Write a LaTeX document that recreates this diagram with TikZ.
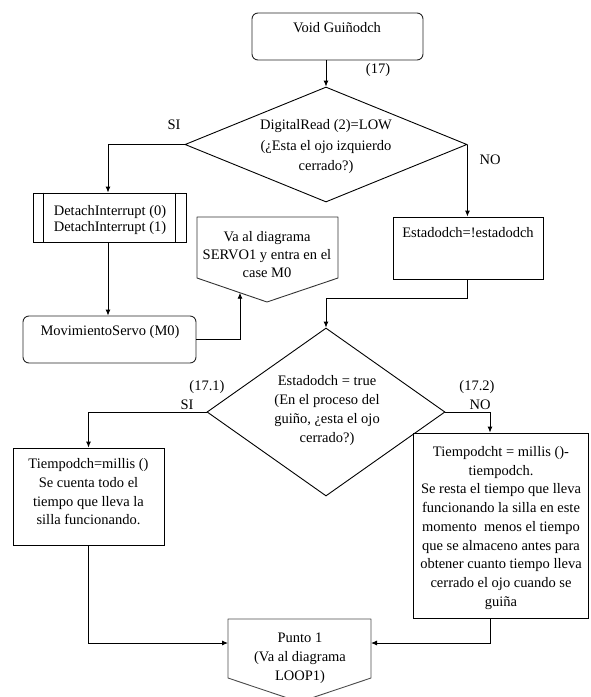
\documentclass[tikz,border=0pt]{standalone}
\usepackage{fontspec}
\setmainfont{Liberation Serif}
\usetikzlibrary{shapes.geometric,arrows.meta}
\begin{document}
\begin{tikzpicture}[x=1pt,y=-1pt,
  font=\fontsize{14.5}{19}\selectfont,
  line/.style={draw=black,line width=0.9pt},
  arr/.style={line,-{Latex[length=6pt,width=5pt]}},
  rbox/.style={draw=black!85,line width=0.9pt,rounded corners=6pt,inner sep=0pt},
  pbox/.style={draw=black,line width=0.9pt,inner sep=0pt},
  decision/.style={diamond,draw=black,line width=0.9pt,inner sep=0pt},
  offpage/.style={draw=black!80,line width=0.9pt,line join=round},
  txt/.style={inner sep=0pt,align=center},
  lbl/.style={inner sep=0pt}
]
\useasboundingbox (0,0) rectangle (591,697);
\begin{scope}
\clip (0,0) rectangle (591,697);

% start terminal
\node[rbox,minimum width=171pt,minimum height=47pt] (start) at (337.5,36.5) {};
\node[txt] (tstart) at (337,28) {Void Guiñodch};
\node[lbl] (n17) at (378,70) {(17)};

% first decision
\node[decision,minimum width=282pt,minimum height=115pt] (d1) at (326,144.5) {};
\node[txt,font=\fontsize{14.5}{20.5}\selectfont] (td1) at (326,147)
  {DigitalRead (2)=LOW\\(¿Esta el ojo izquierdo\\cerrado?)};
\node[lbl] (si1) at (174,125) {SI};
\node[lbl] (no1) at (490,160) {NO};

% predefined process: detach interrupts
\node[pbox,minimum width=153pt,minimum height=49pt] (detach) at (109.5,217.5) {};
\draw[line width=0.9pt] ([xshift=11pt]detach.north west) -- ([xshift=11pt]detach.south west)
                        ([xshift=-11pt]detach.north east) -- ([xshift=-11pt]detach.south east);
\node[txt,font=\fontsize{14.5}{16}\selectfont] (tdetach) at (110,220)
  {DetachInterrupt (0)\\DetachInterrupt (1)};

% servo movement
\node[rbox,minimum width=173pt,minimum height=47pt] (servo) at (109.5,339.5) {};
\node[txt] (tservo) at (110,332) {MovimientoServo (M0)};

% off-page connector to SERVO1
\coordinate (va1) at (197,217);
\coordinate (va2) at (338,217);
\coordinate (va3) at (338,278);
\coordinate (va4) at (267,302);
\coordinate (va5) at (197,278);
\draw[offpage] (va1) -- (va2) -- (va3) -- (va4) -- (va5) -- cycle;
\node[txt,font=\fontsize{14.5}{18}\selectfont] (tva) at (267,255)
  {Va al diagrama\\SERVO1 y entra en el\\case M0};
\coordinate (vain) at (240,292.7);

% toggle state
\node[pbox,minimum width=150pt,minimum height=62pt] (estado) at (468,248) {};
\node[txt] (testado) at (468,233) {Estadodch=!estadodch};

% second decision
\node[decision,minimum width=238pt,minimum height=168pt] (d2) at (326,412) {};
\node[txt] (td2) at (327,411)
  {Estadodch = true\\(En el proceso del\\guiño, ¿esta el ojo\\cerrado?)};
\node[lbl] (n171) at (207,387) {(17.1)};
\node[lbl] (si2) at (187,405) {SI};
\node[lbl] (n172) at (477,387) {(17.2)};
\node[lbl] (no2) at (480,405) {NO};

% time stamp box
\node[pbox,minimum width=151pt,minimum height=97pt] (tiempo) at (88.5,496.5) {};
\node[txt,font=\fontsize{14.5}{18.7}\selectfont] (ttiempo) at (88.5,492)
  {Tiempodch=millis ()\\Se cuenta todo el\\tiempo que lleva la\\silla funcionando.};

% elapsed time box
\node[pbox,minimum width=175pt,minimum height=185pt] (tiempot) at (500.5,525.5) {};
\node[txt,font=\fontsize{14.5}{18.75}\selectfont] (ttiempot) at (501,528)
  {Tiempodcht = millis ()-\\tiempodch.\\Se resta el tiempo que lleva\\funcionando la silla en este\\momento \ menos el tiempo\\que se almaceno antes para\\obtener cuanto tiempo lleva\\cerrado el ojo cuando se\\guiña};

% off-page connector to LOOP1
\coordinate (p1) at (228,619);
\coordinate (p2) at (371,619);
\coordinate (p3) at (371,678);
\coordinate (p4) at (299.5,702);
\coordinate (p5) at (228,678);
\draw[offpage,draw=black!70] (p1) -- (p2) -- (p3) -- (p4) -- (p5) -- cycle;
\node[txt] (tpunto) at (300,658) {Punto 1\\(Va al diagrama\\LOOP1)};
\coordinate (pin-l) at (228,643);
\coordinate (pin-r) at (371,643);

% connectors
\draw[arr] (start.south -| d1.north) -- (d1.north);
\draw[arr] (d1.west) -| (detach.north -| 108,0);
\draw[arr] (d1.east) -- (estado.north -| d1.east);
\draw[arr] (detach.south -| 108,0) -- (servo.north -| 108,0);
\draw[arr] (servo.east |- 0,339) -| (vain);
\draw[arr] (estado.south -| d1.east) -- ++(0,19) -| (d2.north);
\draw[arr] (d2.west) -| (tiempo.north);
\draw[arr] (d2.east) -| (tiempot.north -| 490,0);
\draw[arr] (tiempo.south) |- (pin-l);
\draw[arr] (tiempot.south -| 490,0) |- (pin-r);
\end{scope}
\end{tikzpicture}
\end{document}
